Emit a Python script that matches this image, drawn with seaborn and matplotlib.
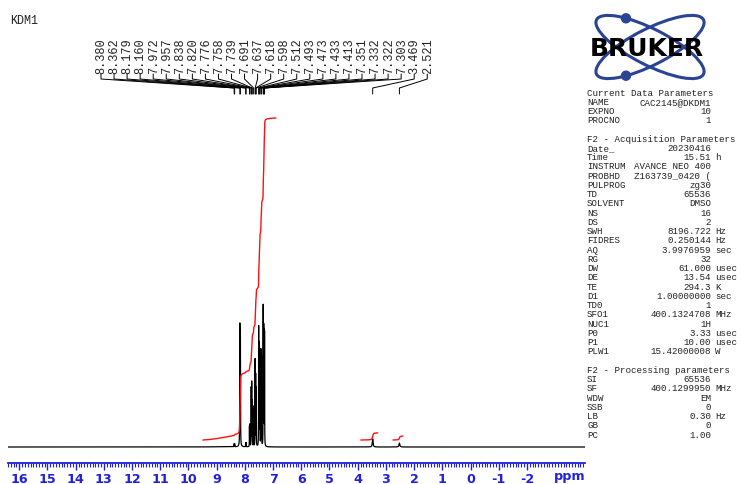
import numpy as np
import pandas as pd
import matplotlib
matplotlib.use("Agg")
import matplotlib.pyplot as plt
from matplotlib.patches import Ellipse, Circle
from matplotlib.ticker import MultipleLocator, FixedLocator, FixedFormatter
import seaborn as sns

sns.set_theme(style="white")
plt.rcParams["axes.unicode_minus"] = False
plt.rcParams["font.family"] = ["DejaVu Sans"]

MONO = "Liberation Mono"
BLUE = "#2020dd"
NAVY = "#2b4393"

# ---- 1H peak list (ppm, intensity, half width at half height in ppm) ----
peak_ppm = [8.380, 8.362, 8.179, 8.160, 7.972, 7.957, 7.838, 7.820, 7.776,
            7.758, 7.739, 7.691, 7.637, 7.618, 7.598, 7.512, 7.493, 7.473,
            7.433, 7.413, 7.351, 7.332, 7.322, 7.303, 3.469, 2.521]
peak_height = [3, 3, 118, 112, 4, 4, 20, 22, 58,
               63, 45, 40, 86, 70, 58, 118, 100, 95,
               95, 88, 138, 110, 105, 112, 8, 4]
peak_hwhm = [0.003, 0.003, 0.0045, 0.0045, 0.003, 0.003, 0.003, 0.003, 0.003,
             0.003, 0.003, 0.003, 0.003, 0.003, 0.003, 0.003, 0.003, 0.003,
             0.003, 0.003, 0.003, 0.003, 0.003, 0.003, 0.0155, 0.0175]

# broad exchangeable background under the aromatic region
broad_ppm = [8.8]
broad_height = [0.25]
broad_hwhm = [0.5]

# integral regions (ppm, from left edge to right edge)
integral_start = [9.49, 3.89, 2.75]
integral_end = [6.90, 3.29, 2.40]

# ppm scale
ppm_ticks = [16, 15, 14, 13, 12, 11, 10, 9, 8, 7, 6, 5, 4, 3, 2, 1, 0, -1, -2]
x_left, x_right = 16.40, -4.06

# ---- build spectrum from the peak list ----
step = 0.0005
ppm = np.arange(x_left, x_right - step, -step)
centers = np.array(peak_ppm + broad_ppm)
heights = np.array(peak_height + broad_height, dtype=float)
widths = np.array(peak_hwhm + broad_hwhm)
intensity = (heights[None, :] * widths[None, :] ** 2 /
             ((ppm[:, None] - centers[None, :]) ** 2 + widths[None, :] ** 2)).sum(axis=1)
spec = pd.DataFrame({"ppm": ppm, "intensity": intensity})

# ---- figure ----
W, H = 742, 485
fig = plt.figure(figsize=(W / 100, H / 100), dpi=100)

# spectrum axes: 1 data unit = 1 pixel vertically, baseline at 448 px
ax_l, ax_r = 8, 585
ax_top, ax_bot = 100, 455
ax = fig.add_axes([ax_l / W, (H - ax_bot) / H, (ax_r - ax_l) / W, (ax_bot - ax_top) / H])
ax.set_xlim(x_left, x_right)
ax.set_ylim(-(ax_bot - 448), 448 - ax_top)
sns.lineplot(data=spec, x="ppm", y="intensity", ax=ax, color="black",
             linewidth=0.9, estimator=None, sort=False)

# integrals on a common scale (main region rises 322 px)
int_offset = 7
segs = []
for a, b in zip(integral_start, integral_end):
    m = (ppm <= a) & (ppm >= b)
    segs.append((ppm[m], np.cumsum(intensity[m]) * step))
int_scale = 322.0 / segs[0][1][-1]
for xs, cum in segs:
    sns.lineplot(x=xs, y=int_offset + cum * int_scale, ax=ax, color="#ff1010",
                 linewidth=1.0, estimator=None, sort=False)
ax.set_axis_off()

# ppm ruler
ax_s = fig.add_axes([ax_l / W, (H - 464) / H, (ax_r - ax_l) / W, 0.001])
ax_s.set_xlim(x_left, x_right)
for s in ["top", "left", "right"]:
    ax_s.spines[s].set_visible(False)
ax_s.spines["bottom"].set_color(BLUE)
ax_s.spines["bottom"].set_linewidth(1.3)
ax_s.set_yticks([])
ax_s.xaxis.set_major_locator(FixedLocator(ppm_ticks))
ax_s.xaxis.set_major_formatter(FixedFormatter([str(t) for t in ppm_ticks]))
ax_s.xaxis.set_minor_locator(MultipleLocator(0.1))
ax_s.tick_params(axis="x", which="major", direction="out", length=5, width=1.0,
                 color=BLUE, labelcolor=BLUE, labelsize=9.2, pad=1.5, bottom=True)
ax_s.tick_params(axis="x", which="minor", direction="out", length=3, width=0.8,
                 color=BLUE, bottom=True)
for lab in ax_s.get_xticklabels():
    lab.set_fontweight("bold")
ax_s.set_facecolor("none")

# overlay in pixel coordinates for annotations
ov = fig.add_axes([0, 0, 1, 1])
ov.set_xlim(0, W)
ov.set_ylim(H, 0)
ov.set_axis_off()
ov.patch.set_alpha(0)

ov.text(570, 477, "ppm", color=BLUE, fontsize=9.2, fontweight="bold",
        ha="center", va="center")
ov.text(10, 21, "KDM1", family=MONO, fontsize=8.5, color="#222222",
        ha="left", va="center")

# peak labels with connector lines
fig.canvas.draw()
def ppm_to_px(p):
    return ax.transData.transform((p, 0))[0]

lab_x0, lab_dx = 101, 13.05
for i, p in enumerate(peak_ppm):
    xl = lab_x0 + i * lab_dx
    xp = ppm_to_px(p)
    ov.text(xl + 0.5, 74, f"{p:.3f}", family=MONO, fontsize=8.6, rotation=90,
            ha="center", va="bottom", color="#222222")
    ov.plot([xl, xl, xp, xp], [75, 80, 89, 95], color="black", linewidth=0.7)

# logo
for ang in (27, -27):
    ov.add_patch(Ellipse((650, 48), 120, 36, angle=ang, fill=False,
                         edgecolor=NAVY, linewidth=2.2))
ov.add_patch(Circle((626, 19.3), 4.5, color=NAVY))
ov.add_patch(Circle((626, 76.7), 4.5, color=NAVY))
ov.text(647, 49, "BRUKER", fontsize=18, fontweight="bold", color="black",
        ha="center", va="center", family="DejaVu Sans")

# acquisition / processing parameters
params = [
    ("Current Data Parameters", "", ""),
    ("NAME", "CAC2145@DKDM1", ""),
    ("EXPNO", "10", ""),
    ("PROCNO", "1", ""),
    None,
    ("F2 - Acquisition Parameters", "", ""),
    ("Date_", "20230416", ""),
    ("Time", "15.51", "h"),
    ("INSTRUM", "AVANCE NEO 400", ""),
    ("PROBHD", "Z163739_0420 (", ""),
    ("PULPROG", "zg30", ""),
    ("TD", "65536", ""),
    ("SOLVENT", "DMSO", ""),
    ("NS", "16", ""),
    ("DS", "2", ""),
    ("SWH", "8196.722", "Hz"),
    ("FIDRES", "0.250144", "Hz"),
    ("AQ", "3.9976959", "sec"),
    ("RG", "32", ""),
    ("DW", "61.000", "usec"),
    ("DE", "13.54", "usec"),
    ("TE", "294.3", "K"),
    ("D1", "1.00000000", "sec"),
    ("TD0", "1", ""),
    ("SFO1", "400.1324708", "MHz"),
    ("NUC1", "1H", ""),
    ("P0", "3.33", "usec"),
    ("P1", "10.00", "usec"),
    ("PLW1", "15.42000008", "W"),
    None,
    ("F2 - Processing parameters", "", ""),
    ("SI", "65536", ""),
    ("SF", "400.1299950", "MHz"),
    ("WDW", "EM", ""),
    ("SSB", "0", ""),
    ("LB", "0.30", "Hz"),
    ("GB", "0", ""),
    ("PC", "1.00", ""),
]
y0, dy = 93, 9.25
for i, row in enumerate(params):
    if row is None:
        continue
    name, val, unit = row
    y = y0 + i * dy
    kw = dict(family=MONO, fontsize=6.6, color="#222222", va="center")
    ov.text(587, y, name, ha="left", **kw)
    if val:
        ov.text(711, y, val, ha="right", **kw)
    if unit:
        ov.text(715, y, unit, ha="left", **kw)

fig.savefig("out.png", dpi=100)
